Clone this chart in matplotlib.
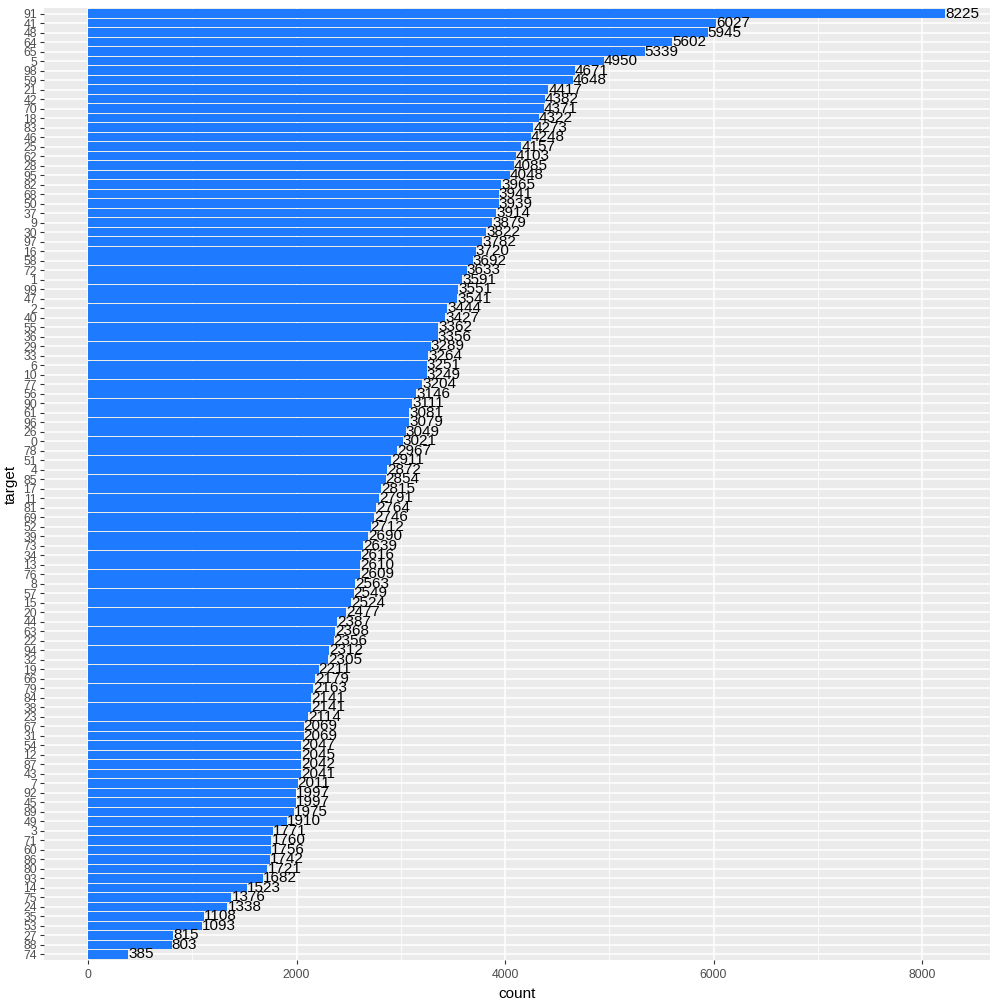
import matplotlib
matplotlib.use("Agg")
import matplotlib.pyplot as plt

targets = ["91","41","48","64","65","5","98","59","21","42","70","18","83","46","25","62","28","95","82","68",
           "50","37","9","30","97","16","58","72","1","99","47","2","40","55","36","29","33","6","10","77",
           "56","90","61","96","26","0","78","51","4","85","17","11","81","69","52","39","73","34","13","76",
           "8","57","15","20","44","63","22","94","32","19","66","79","84","38","23","67","31","54","12","87",
           "43","7","92","45","89","49","3","71","60","86","80","93","14","75","24","35","53","27","88","74"]
counts = [8225,6027,5945,5602,5339,4950,4671,4648,4417,4382,4371,4322,4273,4248,4157,4103,4085,4048,3965,3941,
          3939,3914,3879,3822,3782,3720,3692,3633,3591,3551,3541,3444,3427,3362,3356,3289,3264,3251,3249,3204,
          3146,3111,3081,3079,3049,3021,2967,2911,2872,2854,2815,2791,2764,2746,2712,2690,2639,2616,2610,2609,
          2563,2549,2524,2477,2387,2368,2356,2312,2305,2211,2179,2163,2141,2141,2114,2069,2069,2047,2045,2042,
          2041,2011,1997,1997,1975,1910,1771,1760,1756,1742,1721,1682,1523,1376,1338,1108,1093,815,803,385]

plt.rcParams['font.family'] = ['Liberation Sans', 'DejaVu Sans']
fig = plt.figure(figsize=(10, 10), dpi=100)
ax = fig.add_axes([0.044, 0.040, 0.946, 0.952])
ax.set_facecolor('#EBEBEB')
n = len(targets)
ys = list(range(n - 1, -1, -1))
ax.set_axisbelow(True)
ax.set_xticks([0, 2000, 4000, 6000, 8000])
ax.set_xticks([1000, 3000, 5000, 7000], minor=True)
ax.grid(True, which='major', color='white', linewidth=1.1)
ax.grid(True, which='minor', axis='x', color='white', linewidth=0.55)
ax.barh(ys, counts, height=0.9, color='#1E7BFF', zorder=2)
for y, c in zip(ys, counts):
    ax.text(c, y, str(c), ha='left', va='center', fontsize=11, color='black', zorder=3)
ax.set_yticks(ys)
ax.set_yticklabels(targets)
ax.set_xlim(-422, 8652)
ax.set_ylim(-0.6, n - 0.4)
for s in ax.spines.values():
    s.set_visible(False)
ax.tick_params(axis='both', colors='#333333', labelcolor='#4D4D4D', labelsize=8.8, length=3)
ax.tick_params(which='minor', length=0)
ax.tick_params(axis='y', pad=2)
ax.set_xlabel('count', fontsize=11)
ax.set_ylabel('target', fontsize=11)
fig.savefig('out.png', dpi=100)
